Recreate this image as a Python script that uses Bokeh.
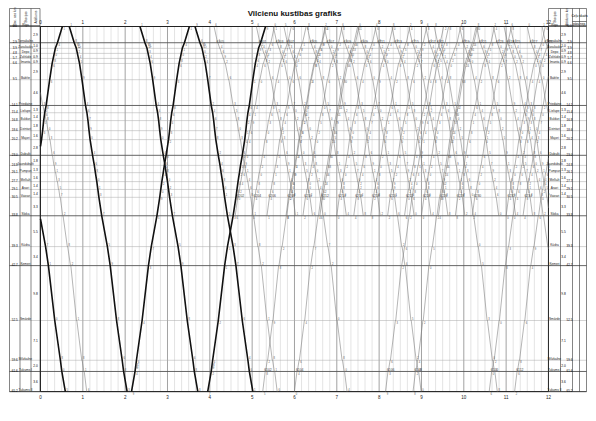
import math
from bokeh.plotting import figure
from bokeh.models import Range1d
from bokeh.embed import file_html
from bokeh.resources import INLINE
from bokeh.core.properties import value

TITLE = "Vilcienu kustības grafiks"

stations = ["Rīga", "Torņakalns", "Zasulauks", "Depo", "Zolitūde", "Imanta", "Babīte",
            "Priedaine", "Lielupe", "Bulduri", "Dzintari", "Majori", "Dubulti", "Jaundubulti",
            "Pumpuri", "Melluži", "Asari", "Vaivari", "Sloka", "Kūdra", "Ķemeri", "Smārde",
            "Milzkalne", "Tukums I", "Tukums II"]
station_km = [0.0, 2.9, 3.9, 4.8, 5.7, 6.6, 9.5, 14.1, 15.4, 16.8, 18.6, 20.2, 23.0, 24.8,
              26.1, 27.7, 29.1, 30.5, 33.8, 39.3, 42.7, 52.5, 59.6, 61.6, 65.2]
major_stations = ["Rīga", "Torņakalns", "Priedaine", "Dubulti", "Sloka", "Ķemeri", "Tukums I", "Tukums II"]

hours = list(range(0, 13))
hour_labels = [str(h) for h in hours]

# running profiles: cumulative minutes from Rīga at each station
thick_cum = [0, 7, 10, 11.5, 13, 14.5, 18, 23, 25, 26.5, 28, 29.5, 33, 35.5, 37, 39, 40.5, 42,
             46, 54, 58, 67, 75, 77, 82]
thin_cum = [0, 5, 7.5, 9.5, 11.5, 13.5, 18, 24, 26, 28, 30, 32, 35, 37, 38.5, 40.5, 42, 43.5,
            47, 53, 57, 65, 72, 74.5, 78]
thin_dwell = 0.5

# departures (hours)
thick_down_dep = [-0.78, 0.68, 2.35, 3.65]
thick_up_dep = [-0.85, 2.15, 3.95]
thin_full_down_dep = [-1.6, -0.4, 4.1, 5.75, 7.5, 9.3, 10.95]
thin_full_up_dep = [5.25, 6.0, 8.15, 8.8, 10.6, 11.2]
thin_short_down_dep = [5.1, 5.5, 6.3, 6.7, 7.1, 7.9, 8.3, 8.7, 9.1, 9.9, 10.3, 10.7, 11.1, 11.5, 11.85]
thin_short_up_dep = [4.6, 5.0, 5.35, 5.8, 6.2, 6.6, 7.0, 7.4, 7.8, 8.2, 8.6, 9.0, 9.4, 9.8, 10.2, 11.0, 11.4]

thick_down_no = ["801", "803", "805", "807"]
thick_up_no = ["802", "804", "806"]
thin_full_down_no = ["6101", "6103", "6105", "6107", "6109", "6111", "6113"]
thin_full_up_no = ["6102", "6104", "6106", "6108", "6110", "6112"]
thin_short_down_no = ["6201", "6203", "6205", "6207", "6209", "6211", "6213", "6215", "6217",
                      "6219", "6221", "6223", "6225", "6227", "6229"]
thin_short_up_no = ["6202", "6204", "6206", "6208", "6210", "6212", "6214", "6216", "6218",
                    "6220", "6222", "6224", "6226", "6228", "6230", "6232", "6234"]

# ---- geometry (page px -> data) ----
PX_H = 42.33   # px per hour
PX_KM = 5.6    # px per km
def tx(px):
    return (px - 40) / PX_H
def ky(py):
    return (py - 26) / PX_KM

W, H = 596, 421
X0 = tx(0)
X1 = X0 + W / PX_H
Y0 = ky(0)
Y1 = Y0 + H / PX_KM

p = figure(width=W, height=H, x_range=Range1d(X0, X1), y_range=Range1d(Y1, Y0),
           output_backend="svg", toolbar_location=None, min_border=0)
p.axis.visible = False
p.grid.visible = False
p.outline_line_color = None
p.background_fill_color = "white"
p.border_fill_color = "white"

FONT = value("Liberation Sans")
kmax = station_km[-1]

# vertical grid (every 10 min)
gx_minor = [h + m / 60 for h in hours[:-1] for m in (10, 20, 30, 40, 50)]
p.segment(x0=gx_minor, y0=[0] * len(gx_minor), x1=gx_minor, y1=[kmax] * len(gx_minor),
          line_color="#c8c8c8", line_width=0.5)
p.segment(x0=hours, y0=[0] * len(hours), x1=hours, y1=[kmax] * len(hours),
          line_color="#7a7a7a", line_width=0.7)

# station lines across tables
tl, tr = tx(9), tx(586)
for name, km in zip(stations, station_km):
    is_major = name in major_stations
    p.segment(x0=[tl], y0=[km], x1=[tr], y1=[km],
              line_color="#555555" if is_major else "#a8a8a8",
              line_width=0.9 if is_major else 0.5)

# frame
p.segment(x0=[0, 0, 0, 12], y0=[0, kmax, 0, 0], x1=[12, 12, 0, 12], y1=[0, kmax, kmax, kmax],
          line_color="#222222", line_width=1.0)

# tables
left_cols = [tx(9), tx(19.5), tx(30.5), tx(39.5)]
right_cols = [tx(548), tx(560), tx(572), tx(579), tx(586)]
ytop = ky(8)
p.segment(x0=left_cols, y0=[ytop] * 4, x1=left_cols, y1=[kmax] * 4, line_color="#333333", line_width=0.6)
p.segment(x0=right_cols, y0=[ytop] * 5, x1=right_cols, y1=[kmax] * 5, line_color="#333333", line_width=0.6)
p.segment(x0=[left_cols[0], right_cols[0], left_cols[0], right_cols[0], right_cols[2]],
          y0=[ytop, ytop, ky(25), ky(25), ky(21)],
          x1=[left_cols[-1], right_cols[-1], left_cols[-1], right_cols[-1], right_cols[-1]],
          y1=[ytop, ytop, ky(25), ky(25), ky(21)], line_color="#333333", line_width=0.6)
p.segment(x0=[left_cols[0], right_cols[0]], y0=[kmax, kmax], x1=[left_cols[-1], right_cols[-1]],
          y1=[kmax, kmax], line_color="#333333", line_width=0.6)

hdr_y = ky(16.5)
p.text(x=[(left_cols[0] + left_cols[1]) / 2, (left_cols[1] + left_cols[2]) / 2,
          (left_cols[2] + left_cols[3]) / 2, (right_cols[0] + right_cols[1]) / 2,
          (right_cols[1] + right_cols[2]) / 2],
       y=[hdr_y] * 5, text=["Stac. ass km", "Stacijas", "Attālums", "Stacijas", "Attālums km"],
       angle=math.pi / 2, text_font=FONT, text_font_size="3.3px", text_align="center",
       text_baseline="middle", text_color="#222222")
p.text(x=[(right_cols[2] + right_cols[4]) / 2], y=[ky(15)], text=["Ceļu skaits"],
       text_font=FONT, text_font_size="3.3px", text_align="center", text_baseline="middle")
p.text(x=[(right_cols[2] + right_cols[3]) / 2, (right_cols[3] + right_cols[4]) / 2],
       y=[ky(23.2)] * 2, text=["pāra", "nep."], text_font=FONT, text_font_size="3px",
       text_align="center", text_baseline="middle")

# station names
p.text(x=[(left_cols[1] + left_cols[2]) / 2] * len(stations), y=station_km, text=stations,
       text_font=FONT, text_font_size="3.2px", text_align="center", text_baseline="bottom",
       text_color="#222222")
p.text(x=[(right_cols[0] + right_cols[1]) / 2] * len(stations), y=station_km, text=stations,
       text_font=FONT, text_font_size="3.2px", text_align="center", text_baseline="bottom",
       text_color="#222222")
mids = [(a + b) / 2 for a, b in zip(station_km[:-1], station_km[1:])]
dists = ["%.1f" % (b - a) for a, b in zip(station_km[:-1], station_km[1:])]
p.text(x=[(left_cols[2] + left_cols[3]) / 2] * len(mids), y=mids, text=dists, text_font=FONT,
       text_font_size="3.2px", text_align="center", text_baseline="middle")
p.text(x=[tx(563)] * len(mids), y=mids, text=dists, text_font=FONT,
       text_font_size="3.2px", text_align="center", text_baseline="middle")
p.text(x=[tx(569)] * len(stations), y=station_km, text=["%.1f" % k for k in station_km],
       text_font=FONT, text_font_size="3px", text_align="center", text_baseline="bottom")
p.text(x=[(left_cols[0] + left_cols[1]) / 2] * len(stations), y=station_km,
       text=["%.1f" % k for k in station_km], text_font=FONT, text_font_size="3px",
       text_align="center", text_baseline="bottom")

# hour labels
p.text(x=hours, y=[ky(23.5)] * len(hours), text=hour_labels, text_font=FONT, text_font_size="4.5px",
       text_align="center", text_baseline="bottom", text_color="#222222")
p.text(x=hours, y=[ky(394)] * len(hours), text=hour_labels, text_font=FONT, text_font_size="4.5px",
       text_align="center", text_baseline="top", text_color="#222222")

# title
p.text(x=[tx(294)], y=[ky(12.5)], text=[TITLE], text_font=FONT, text_font_size="8px",
       text_font_style="bold", text_align="center", text_baseline="middle", text_color="#111111")


def train_path(dep, cum, i0, i1, dwell):
    xs, ys = [], []
    if i1 > i0:
        idx = list(range(i0, i1 + 1))
        rel = [cum[i] - cum[i0] for i in idx]
    else:
        idx = list(range(i0, i1 - 1, -1))
        rel = [cum[i0] - cum[i] for i in idx]
    for k, (i, r) in enumerate(zip(idx, rel)):
        t_arr = dep + (r + dwell * max(k - 1, 0)) / 60.0
        xs.append(t_arr)
        ys.append(station_km[i])
        if 0 < k < len(idx) - 1 and dwell > 0:
            xs.append(t_arr + dwell / 60.0)
            ys.append(station_km[i])
    return xs, ys


def clip(xs, ys, lo=0.0, hi=12.0):
    out_x, out_y = [], []
    for k in range(len(xs) - 1):
        xa, ya, xb, yb = xs[k], ys[k], xs[k + 1], ys[k + 1]
        if xb < lo or xa > hi:
            continue
        if xa < lo:
            ya = ya + (yb - ya) * (lo - xa) / (xb - xa) if xb != xa else ya
            xa = lo
        if xb > hi:
            yb = ya + (yb - ya) * (hi - xa) / (xb - xa) if xb != xa else yb
            xb = hi
        if not out_x or out_x[-1] != xa or out_y[-1] != ya:
            out_x.append(xa)
            out_y.append(ya)
        out_x.append(xb)
        out_y.append(yb)
    return out_x, out_y


dig_x, dig_y, dig_t = [], [], []


def draw(deps, nos, cum, i0, i1, dwell, color, width):
    lx, ly, lt, la = [], [], [], []
    down = i1 > i0
    for dep, no in zip(deps, nos):
        xs, ys = train_path(dep, cum, i0, i1, dwell)
        cx, cy = clip(xs, ys)
        if len(cx) < 2:
            continue
        p.line(cx, cy, line_color=color, line_width=width)
        k = 1 if len(xs) > 3 else 0
        xa, ya, xb, yb = xs[k], ys[k], xs[k + 1], ys[k + 1]
        mx, my = (xa + xb) / 2, (ya + yb) / 2
        if 0.05 < mx < 11.95:
            dx = (xb - xa) * PX_H
            dy = (yb - ya) * PX_KM
            lx.append(mx + 0.06)
            ly.append(my)
            lt.append(no)
            la.append(math.atan2(-dy, dx))
        seen = set()
        for t, y in zip(xs, ys):
            if y in seen or not (0.03 < t < 11.97):
                continue
            seen.add(y)
            dig_x.append(t + 0.045)
            dig_y.append(y + (-0.35 if down else 0.35))
            dig_t.append(str(int(round(t * 60)) % 60 % 10))
    if lx:
        p.text(x=lx, y=ly, text=lt, angle=la, text_font=FONT, text_font_size="3.4px",
               text_align="center", text_baseline="bottom", text_color="#444444")


last = len(stations) - 1
sloka = stations.index("Sloka")
draw(thin_short_down_dep, thin_short_down_no, thin_cum, 0, sloka, thin_dwell, "#777777", 0.55)
draw(thin_short_up_dep, thin_short_up_no, thin_cum, sloka, 0, thin_dwell, "#777777", 0.55)
draw(thin_full_down_dep, thin_full_down_no, thin_cum, 0, last, thin_dwell, "#777777", 0.55)
draw(thin_full_up_dep, thin_full_up_no, thin_cum, last, 0, thin_dwell, "#777777", 0.55)
draw(thick_down_dep, thick_down_no, thick_cum, 0, last, 0, "#111111", 1.6)
draw(thick_up_dep, thick_up_no, thick_cum, last, 0, 0, "#111111", 1.6)

p.text(x=dig_x, y=dig_y, text=dig_t, text_font=FONT, text_font_size="2.6px",
       text_align="center", text_baseline="middle", text_color="#555555")

open("out.html", "w").write(file_html(p, INLINE))
